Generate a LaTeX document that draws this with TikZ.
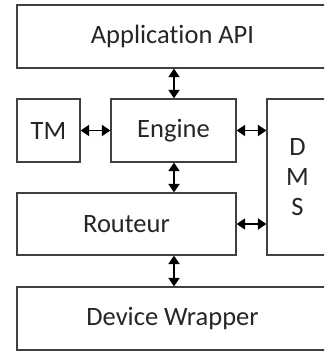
\documentclass[tikz,border=0pt]{standalone}
\usepackage{fontspec}
\setmainfont{Carlito}[Ligatures=NoCommon]
\usetikzlibrary{arrows.meta}
\definecolor{boxline}{HTML}{404040}
\definecolor{txt}{HTML}{262626}
\begin{document}
\begin{tikzpicture}[x=1pt,y=-1pt,
  blk/.style={draw=boxline, line width=1.2pt, fill=white, rectangle, inner sep=0pt,
    font=\fontsize{26.5}{30}\selectfont, text=txt, align=center},
  link/.style={{Triangle[length=8.5pt,width=11pt]}-{Triangle[length=8.5pt,width=11pt]}, line width=1.8pt, black}]
\useasboundingbox (0,0) rectangle (324,352);
\clip (0,0) rectangle (324,352);
\node[blk, minimum width=311pt, minimum height=63pt] (api) at (172.5,36.5) {Application API};
\node[blk, minimum width=63pt, minimum height=63pt] (tm) at (48.5,130.5) {TM};
\node[blk, minimum width=125pt, minimum height=63pt] (eng) at (173.5,130.5) {Engine};
\node[blk, minimum width=61pt, minimum height=156pt] (dms) at (297.5,177) {D\\M\\S};
\node[blk, minimum width=219pt, minimum height=62pt] (rt) at (126.5,224) {Routeur};
\node[blk, minimum width=311pt, minimum height=63pt] (dw) at (172.5,318.5) {Device Wrapper};
\draw[link] (api.south -| 174,0) -- (eng.north -| 174,0);
\draw[link] (eng.south -| 174,0) -- (rt.north -| 174,0);
\draw[link] (rt.south -| 174,0) -- (dw.north -| 174,0);
\draw[link] (tm.east) -- (eng.west);
\draw[link] (eng.east) -- (dms.west |- eng.east);
\draw[link] (rt.east) -- (dms.west |- rt.east);
\end{tikzpicture}
\end{document}
